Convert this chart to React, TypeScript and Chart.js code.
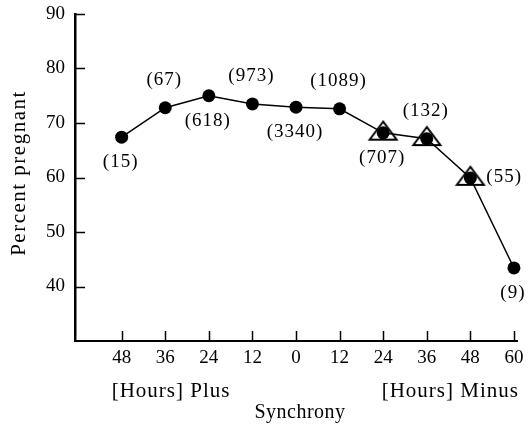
import React, { useEffect, useRef } from "react";
import { Chart, registerables } from "chart.js";

Chart.register(...registerables);

// ---- data ----
const xLabels = ["48", "36", "24", "12", "0", "12", "24", "36", "48", "60"];
const pctPregnant = [67.4, 72.8, 75.0, 73.5, 72.9, 72.6, 68.2, 67.1, 59.9, 43.4];
const sampleSizes = ["(15)", "(67)", "(618)", "(973)", "(3340)", "(1089)", "(707)", "(132)", "(55)", "(9)"];
const labelSide = ["below", "above", "below", "above", "below", "above", "below", "above", "right", "below"];
const triangleIdx = [6, 7, 8];
const triangleVals = [68.6, 67.6, 60.3];
const yTicks = [40, 50, 60, 70, 80, 90];
const yTitle = "Percent pregnant";
const plusLabel = "[Hours] Plus";
const minusLabel = "[Hours] Minus";
const xTitle = "Synchrony";

const FONT = "'Liberation Serif', 'Times New Roman', serif";

function makeTriangle(): HTMLCanvasElement {
  const c = document.createElement("canvas");
  c.width = 32;
  c.height = 22;
  const g = c.getContext("2d")!;
  g.strokeStyle = "#000";
  g.lineWidth = 2;
  g.lineJoin = "miter";
  g.beginPath();
  g.moveTo(16, 2);
  g.lineTo(2.5, 20);
  g.lineTo(29.5, 20);
  g.closePath();
  g.stroke();
  return c;
}

const annotPlugin = {
  id: "annot",
  afterDraw(chart: any) {
    const ctx = chart.ctx as CanvasRenderingContext2D;
    const xs = chart.scales.x;
    const ys = chart.scales.y;
    const area = chart.chartArea;
    ctx.save();
    // inward tick marks
    ctx.strokeStyle = "#000";
    ctx.lineWidth = 1.5;
    yTicks.forEach((v) => {
      const py = Math.round(ys.getPixelForValue(v)) + 0.5;
      ctx.beginPath();
      ctx.moveTo(area.left, py);
      ctx.lineTo(area.left + 10, py);
      ctx.stroke();
    });
    xLabels.forEach((_, i) => {
      const px = Math.round(xs.getPixelForValue(i)) + 0.5;
      ctx.beginPath();
      ctx.moveTo(px, area.bottom);
      ctx.lineTo(px, area.bottom - 10);
      ctx.stroke();
    });

    // data labels
    ctx.fillStyle = "#000";
    ctx.font = `19px ${FONT}`;
    (ctx as any).letterSpacing = "1px";
    ctx.textBaseline = "middle";
    pctPregnant.forEach((v, i) => {
      const px = xs.getPixelForValue(i);
      const py = ys.getPixelForValue(v);
      const side = labelSide[i];
      if (side === "right") {
        ctx.textAlign = "left";
        ctx.fillText(sampleSizes[i], px + 16, py - 1);
      } else {
        ctx.textAlign = "center";
        const dy = side === "above" ? -28 : 25;
        ctx.fillText(sampleSizes[i], px - 1, py + dy);
      }
    });

    // axis texts
    ctx.font = `21px ${FONT}`;
    (ctx as any).letterSpacing = "1px";
    ctx.textAlign = "left";
    ctx.fillText(plusLabel, xs.getPixelForValue(0) - 10, 391);
    ctx.textAlign = "right";
    ctx.fillText(minusLabel, xs.getPixelForValue(9) + 5, 391);
    ctx.font = `20px ${FONT}`;
    (ctx as any).letterSpacing = "0.5px";
    ctx.textAlign = "center";
    ctx.fillText(xTitle, xs.getPixelForValue(4) + 4, 413);

    ctx.font = `21px ${FONT}`;
    (ctx as any).letterSpacing = "1.5px";
    ctx.translate(19, 173);
    ctx.rotate(-Math.PI / 2);
    ctx.textAlign = "center";
    ctx.fillText(yTitle, 0, 0);
    ctx.restore();
  },
};

export default function App() {
  const ref = useRef<HTMLCanvasElement>(null);
  useEffect(() => {
    const tri = makeTriangle();
    const chart = new Chart(ref.current!, {
      type: "line",
      data: {
        datasets: [
          {
            data: pctPregnant.map((y, i) => ({ x: i, y })),
            borderColor: "#000",
            borderWidth: 1.5,
            pointRadius: 6.5,
            pointBackgroundColor: "#000",
            pointBorderWidth: 0,
            tension: 0,
            clip: false as any,
            order: 0,
          },
          {
            data: triangleIdx.map((i, k) => ({ x: i, y: triangleVals[k] })),
            showLine: false,
            pointStyle: tri as any,
            pointRadius: 12,
            clip: false as any,
            order: 1,
          },
        ],
      },
      plugins: [annotPlugin],
      options: {
        responsive: false,
        animation: false,
        events: [],
        layout: { padding: { top: 14, right: 8, left: 0, bottom: 0 } },
        plugins: { legend: { display: false }, tooltip: { enabled: false } },
        scales: {
          x: {
            type: "linear",
            min: -1.07,
            max: 9.07,
            afterBuildTicks: (s: any) => {
              s.ticks = xLabels.map((_, i) => ({ value: i }));
            },
            afterFit: (s: any) => {
              s.height = 85;
              s.paddingLeft = 0;
              s.paddingRight = 0;
            },
            ticks: {
              callback: (v: any) => xLabels[v] ?? "",
              font: { family: FONT, size: 19 },
              color: "#000",
              padding: 6,
              maxRotation: 0,
              autoSkip: false,
            },
            grid: { display: true, drawOnChartArea: false, drawTicks: false },
            border: { display: true, color: "#000", width: 2 },
          },
          y: {
            type: "linear",
            min: 30,
            max: 90,
            afterBuildTicks: (s: any) => {
              s.ticks = yTicks.map((v) => ({ value: v }));
            },
            afterFit: (s: any) => {
              s.width = 75;
              s.paddingTop = 0;
              s.paddingBottom = 0;
            },
            ticks: {
              font: { family: FONT, size: 19 },
              color: "#000",
              padding: 10,
            },
            grid: { display: true, drawOnChartArea: false, drawTicks: false },
            border: { display: true, color: "#000", width: 2.5 },
          },
        },
      },
    });
    return () => chart.destroy();
  }, []);
  return (
    <div style={{ position: "absolute", left: 0, top: 0, width: 530, height: 426, background: "#fff" }}>
      <canvas ref={ref} width={530} height={426} />
    </div>
  );
}
